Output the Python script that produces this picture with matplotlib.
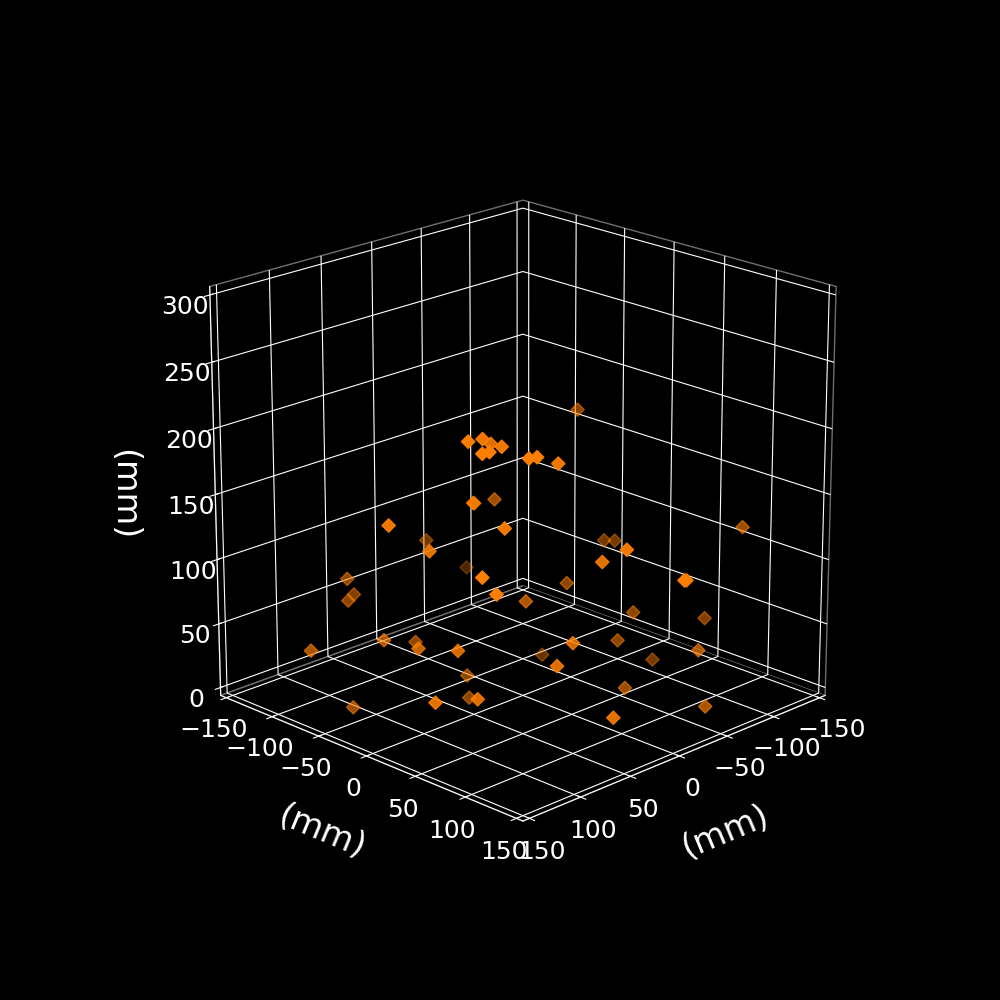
import numpy as np
import matplotlib
matplotlib.use('Agg')
import matplotlib.pyplot as plt

plt.style.use('dark_background')
plt.rcParams['axes3d.automargin'] = True

x = [-60, 77, 60, 47, 52, 72, 68, 50, 46, 27, 47, 47, 8, 64, 22, 96, -22, 121,
     88, 78, 91, 137, 98, 64, 100, 90, 43, 119, 46, 97, 116, 93, 89, 19,
     -114, -70, -75, 7, 12, -16, -17, -24, -53, -98, -40, 31, -27, -74, -60, 52, -26, -54, 33]
y = [-4, 23, 20, 15, 31, 32, 35, 56, 60, 62, -3, -2, -21, 46, -78, 3, -81, -12,
     -92, -96, -88, -78, -43, -46, -5, 25, -14, 32, -9, 52, -57, 53, 63, 22,
     110, 14, 20, 110, 91, 144, 145, 21, 60, 89, 57, 81, -7, 60, 118, 86, 78, 131, 123]
z = [199, 215, 212, 204, 207, 207, 208, 204, 205, 196, 155, 155, 143, 153, 100, 133, 66, 155,
     84, 68, 69, 46, 53, 41, 58, 62, 18, 33, 3, 35, 2, 126, 115, 79,
     124, 100, 100, 139, 126, 119, 119, 81, 61, 52, 42, 67, 16, 18, 46, 57, 15, 8, 23]

xy_ticks = [-150, -100, -50, 0, 50, 100, 150]
z_ticks = [0, 50, 100, 150, 200, 250, 300]

fig = plt.figure(figsize=(10, 10), dpi=100)
ax = fig.add_subplot(projection='3d')
ax.view_init(elev=20, azim=45)
ax.set_box_aspect((1, 1, 1), zoom=0.95)

ax.scatter(x, y, z, marker='D', s=46, c='#ff7f00')

ax.set_xlim(-150, 150)
ax.set_ylim(-150, 150)
ax.set_zlim(0, 300)
ax.set_xticks(xy_ticks)
ax.set_yticks(xy_ticks)
ax.set_zticks(z_ticks)
ax.tick_params(labelsize=18)

for a in (ax.xaxis, ax.yaxis, ax.zaxis):
    a.set_pane_color((0, 0, 0, 1))
    a.pane.set_edgecolor('#6e6e6e')

ax.xaxis.set_rotate_label(True)
ax.yaxis.set_rotate_label(True)
ax.set_xlabel('(mm)', fontsize=24, labelpad=20)
ax.set_ylabel('(mm)', fontsize=24, labelpad=20)
ax.zaxis.set_rotate_label(False)
ax.set_zlabel('(mm)', fontsize=24, labelpad=22, rotation=270)

fig.savefig('out.png', dpi=100, facecolor='black')
